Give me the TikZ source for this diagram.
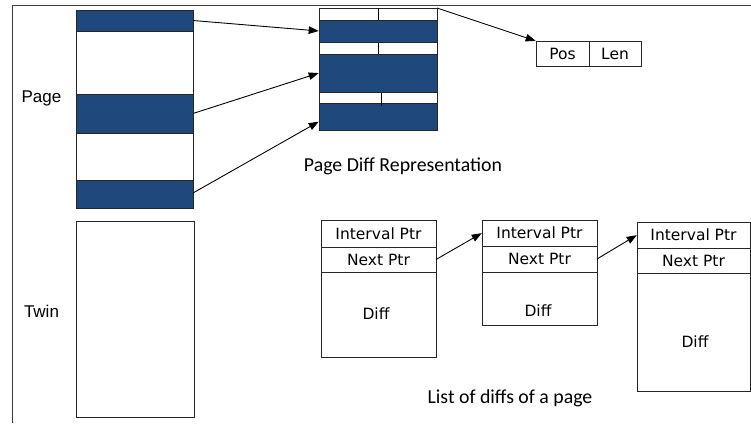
\documentclass[tikz,border=0pt]{standalone}
\usepackage{fontspec}
\setmainfont{Carlito}
\newfontfamily\labelfont{Liberation Sans}
\newfontfamily\fieldfont{DejaVu Sans}
\usetikzlibrary{arrows.meta,calc}
\definecolor{bandblue}{RGB}{31,73,125}
\definecolor{framegray}{RGB}{60,60,60}

% \cellbox{name}{style}{x1}{y1}{x2}{y2}{text}: rectangle node spanning the given corners
\newcommand\cellbox[7]{%
  \node[#2, minimum width={(#5)-(#3)}, minimum height={(#6)-(#4)}]
    (#1) at ({((#3)+(#5))/2},{((#4)+(#6))/2}) {#7};}

\begin{document}
\begin{tikzpicture}[x=1pt,y=-1pt,
  cell/.style={draw=black!85, line width=0.9pt, inner sep=0pt, outer sep=0pt, fill=white},
  band/.style={cell, fill=bandblue},
  fieldtext/.style={font=\fieldfont\fontsize{15.5}{18}\selectfont},
  field/.style={cell, fieldtext},
  side/.style={font=\labelfont\fontsize{17}{20}\selectfont, inner sep=0pt},
  caption/.style={font=\fontsize{19.8}{22}\selectfont, inner sep=0pt},
  ptr/.style={line width=0.9pt, -{Triangle[length=10pt,width=7.5pt]}, shorten >=0.3pt}
]
\useasboundingbox (0,0) rectangle (751,423);

% outer frame (top and left edges)
\coordinate (ftl) at (12.5,5.5);
\coordinate (ftr) at (751,5.5);
\coordinate (fbl) at (12.5,423);
\draw[framegray, line width=1.4pt] (ftr) -- (ftl) -- (fbl);

% page with its modified bands
\cellbox{pw1}{cell}{76}{31}{193}{94}{}
\cellbox{pw2}{cell}{76}{133}{193}{180}{}
\cellbox{pb1}{band}{76}{10}{193}{31}{}
\cellbox{pb2}{band}{76}{94}{193}{133}{}
\cellbox{pb3}{band}{76}{180}{193}{208}{}
\node[side] (pagelbl) at (41.5,98) {Page};

% twin copy
\cellbox{twin}{cell}{76}{221}{194}{417}{}
\node[side] (twinlbl) at (41.5,311) {Twin};

% page diff representation: header rows (two halves) and diff bands
\cellbox{rh1}{cell}{319}{8}{437}{20}{}
\cellbox{rh2}{cell}{319}{42}{437}{54}{}
\cellbox{rh3}{cell}{319}{92}{437}{103}{}
\draw[line width=0.9pt] (378,8) -- (378,20);
\draw[line width=0.9pt] (378,42) -- (378,54);
\draw[line width=0.9pt] (381,92) -- (381,106);
\cellbox{rb1}{band}{319}{20}{437}{42}{}
\cellbox{rb2}{band}{319}{54}{437}{92}{}
\cellbox{rb3}{band}{319}{103}{437}{130}{}
\draw[line width=0.9pt] (381,103) -- (381,106);
\node[caption] (replbl) at (403,166.5) {Page Diff Representation};

% interval record
\cellbox{pos}{field}{536}{41}{589}{66}{Pos}
\cellbox{len}{field}{589}{41}{641}{66}{Len}

% arrows from page bands to diff bands
\draw[ptr] (pb1.east) -- (rb1.west);
\draw[ptr] (pb2.east) -- (rb2.west);
\draw[ptr] ($(pb3.east)+(0,-1)$) -- ($(rb3.west)+(0,5)$);
\draw[ptr] (rh1.north east) -- (pos.north west);

% linked list of diffs
\cellbox{ia}{field}{321}{220}{436}{247}{Interval Ptr}
\cellbox{na}{field}{321}{247}{436}{272}{Next Ptr}
\cellbox{da}{cell}{321}{272}{436}{357}{}
\node[fieldtext, inner sep=0pt] (dal) at (376,314) {Diff};

\cellbox{ib}{field}{482}{220}{597}{246}{Interval Ptr}
\cellbox{nb}{field}{482}{246}{597}{272}{Next Ptr}
\cellbox{db}{cell}{482}{272}{597}{325}{}
\node[fieldtext, inner sep=0pt] (dbl) at (538,311) {Diff};

\cellbox{ic}{field}{637}{222}{750}{248}{Interval Ptr}
\cellbox{nc}{field}{637}{248}{750}{273}{Next Ptr}
\cellbox{dc}{cell}{637}{273}{750}{391}{}
\node[fieldtext, inner sep=0pt] (dcl) at (695,342) {Diff};

\draw[ptr] (na.east) -- (ib.west);
\draw[ptr] (nb.east) -- (ic.west);

\node[caption] (listlbl) at (510,398.5) {List of diffs of a page};
\end{tikzpicture}
\end{document}
